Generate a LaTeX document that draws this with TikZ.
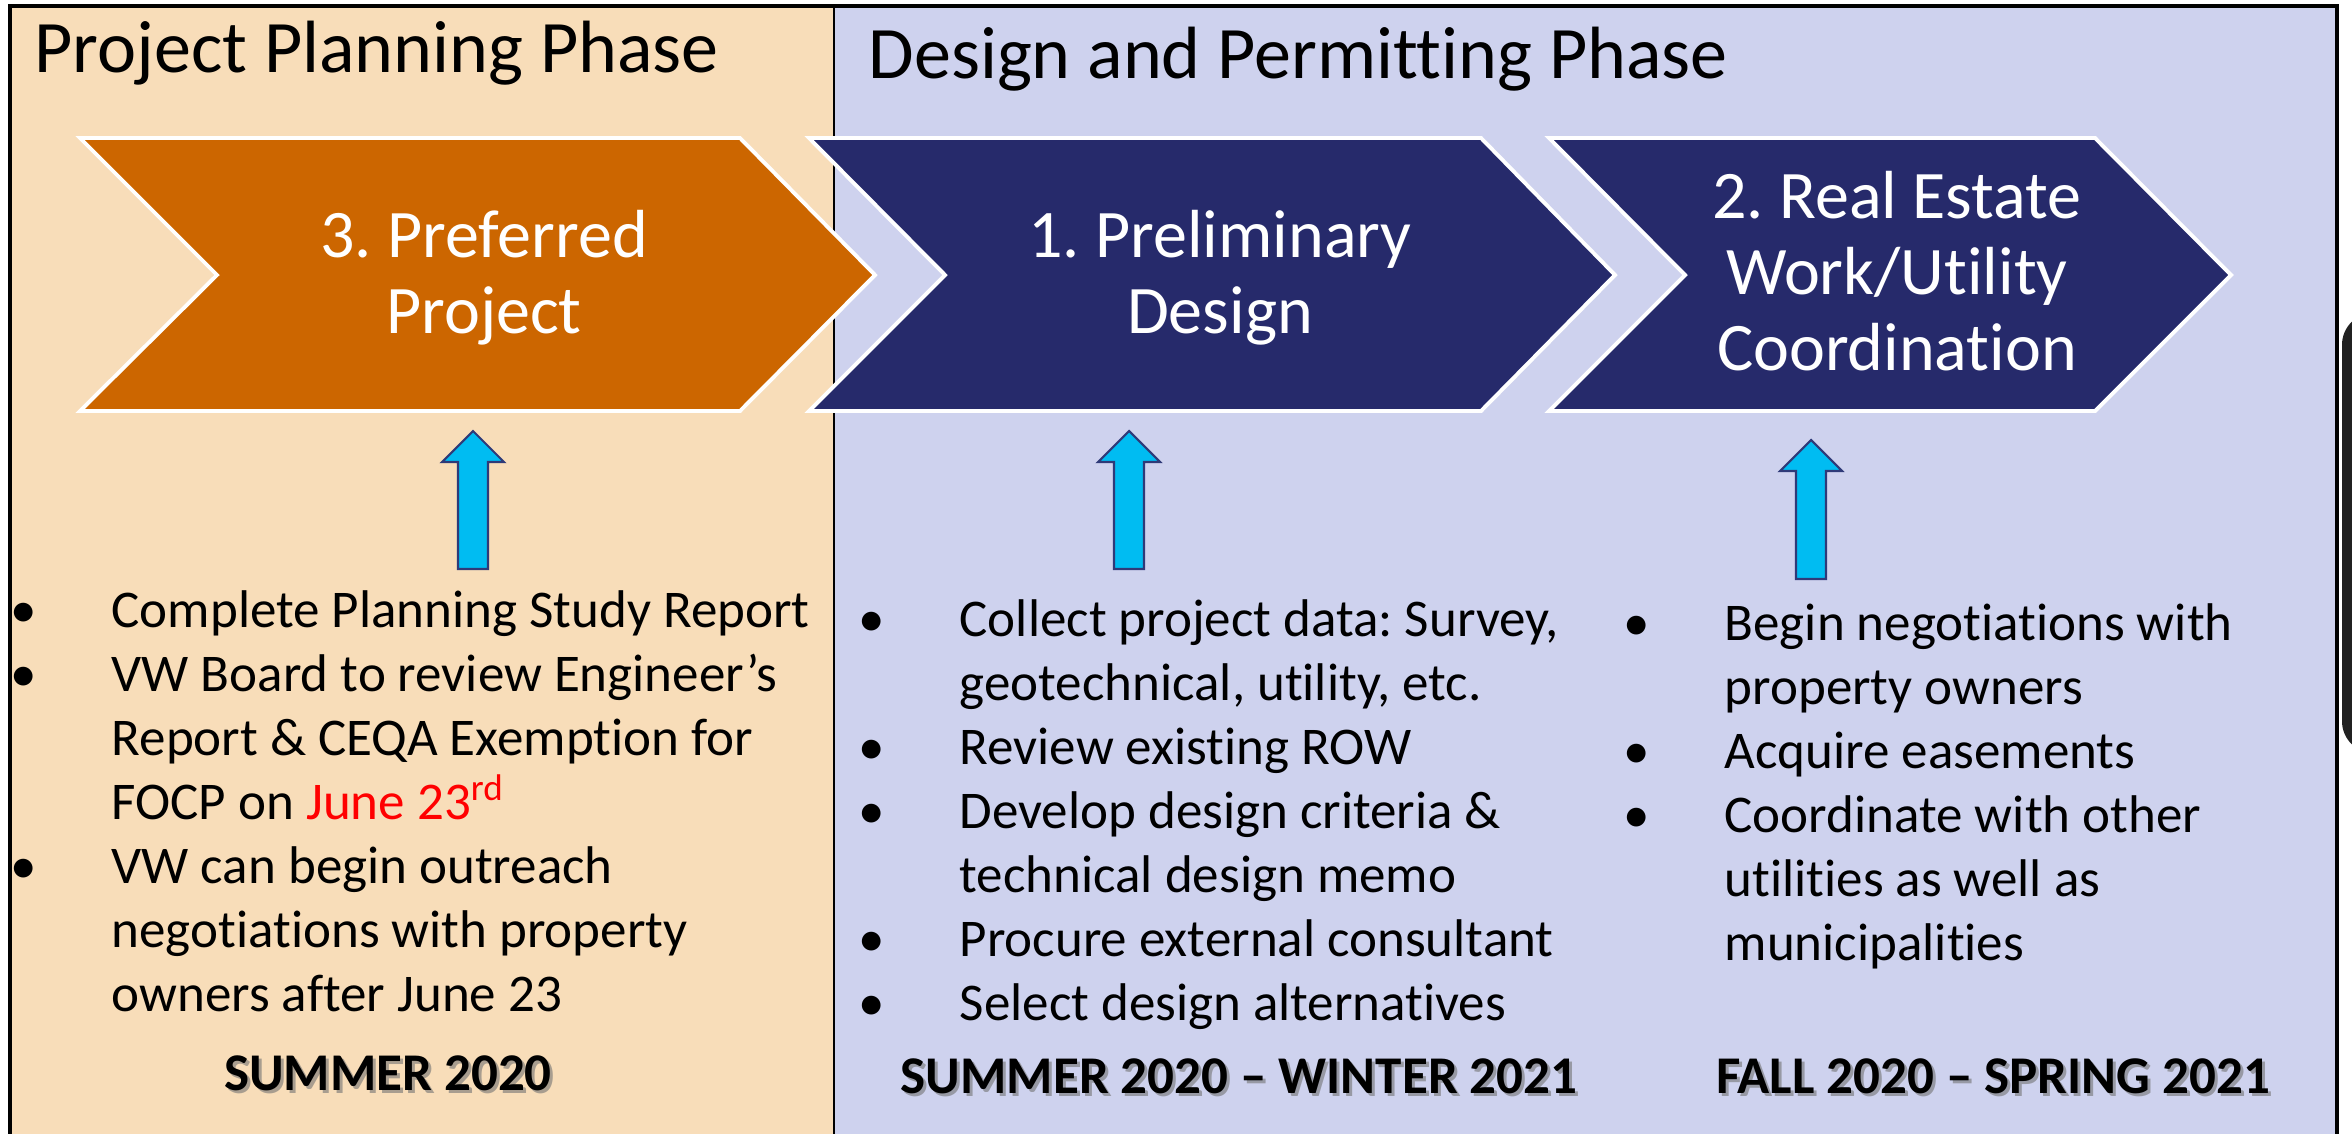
\documentclass[tikz,border=0pt]{standalone}
\usepackage{fontspec}
\setmainfont{Carlito}[Ligatures={NoCommon,NoRare,NoContextual}]
\frenchspacing
\definecolor{peach}{HTML}{F8DDB9}
\definecolor{lav}{HTML}{CED2EE}
\definecolor{chorange}{HTML}{CC6600}
\definecolor{navy}{HTML}{262A6B}
\definecolor{cyanfill}{HTML}{00BCF2}
\definecolor{arrline}{HTML}{2F3A78}
\definecolor{junered}{HTML}{FF0000}
\newlength\bulw
\setlength\bulw{28.7pt}
\newcommand\bi[1]{\hbox{\llap{\makebox[\bulw][l]{\textbullet}}#1}}
\newcommand\ci[1]{\hbox{#1}}
\newcommand\cent[1]{\vtop{\halign{\hfil##\hfil\cr#1\crcr}}}
\newcommand\blockup[3]{%
  \draw[blockarr] (#1,#2) -- (#1+31,#2+31) -- (#1+15,#2+31) -- (#1+15,#3)
    -- (#1-15,#3) -- (#1-15,#2+31) -- (#1-31,#2+31) -- cycle;}
\begin{document}
\frenchspacing
\begin{tikzpicture}[x=0.01cm,y=-0.01cm,
  frame/.style={draw=black,line width=1pt},
  divider/.style={draw=black,line width=0.7pt},
  chev/.style={draw=white,line width=1.1pt,line join=miter},
  blockarr/.style={draw=arrline,fill=cyanfill,line width=0.6pt,line join=miter},
  title/.style={anchor=base west,inner sep=0,font=\fontsize{21.06}{25}\selectfont},
  chevtext/.style={anchor=base,inner sep=0,text=white,font=\fontsize{19.35}{21.62}\selectfont},
  blist/.style={anchor=base west,inner sep=0,font=\fontsize{15.08}{18.21}\selectfont},
  lab/.style={anchor=base,inner sep=0,font=\bfseries\fontsize{15.08}{18}\selectfont},
  labshadow/.style={lab,text=black!55,opacity=0.6}]
\useasboundingbox (0,0) rectangle (2352,1133);
\clip (0,0) rectangle (2352,1133);
\fill[white] (0,0) rectangle (2352,1133);
% phase panels
\fill[peach] (10,6) rectangle (834,1140);
\fill[lav] (834,6) rectangle (2337,1140);
\draw[frame] (10,1140) -- (10,6) -- (2337,6) -- (2337,1140);
\draw[divider] (834,6) -- (834,1140);
% cropped dark element at right edge
\fill[black!87,rounded corners=9pt] (2342,313) rectangle (2420,753);
% titles
\node[title] (t1) at (34,72) {Project Planning Phase};
\node[title] (t2) at (868,78) {Design and Permitting Phase};
% chevrons
\draw[chev,fill=chorange] (80,138) -- (740,138) -- (875,275) -- (740,411) -- (80,411) -- (217,275) -- cycle;
\draw[chev,fill=navy] (809,138) -- (1481,138) -- (1615,275) -- (1481,411) -- (809,411) -- (945,275) -- cycle;
\draw[chev,fill=navy] (1549,138) -- (2095,138) -- (2231,275) -- (2095,411) -- (1549,411) -- (1685,275) -- cycle;
\node[chevtext] (c3) at (484,257) {\cent{3. Preferred\cr Project}};
\node[chevtext] (c1) at (1220,257) {\cent{1. Preliminary\cr Design}};
\node[chevtext] (c2) at (1897,218) {\cent{2. Real Estate\cr Work/Utility\cr Coordination}};
% block arrows
\blockup{473}{431}{569}
\blockup{1129}{431}{569}
\blockup{1811}{440}{579}
% bullet lists
\node[blist] (l1) at (111,627) {\vtop{%
  \bi{Complete Planning Study Report}
  \bi{VW Board to review Engineer’s}
  \ci{Report \& CEQA Exemption for}
  \ci{FOCP on \textcolor{junered}{June 23\textsuperscript{rd}}}
  \bi{VW can begin outreach}
  \ci{negotiations with property}
  \ci{owners after June 23}}};
\node[blist] (l2) at (959,636) {\vtop{%
  \bi{Collect project data: Survey,}
  \ci{geotechnical, utility, etc.}
  \bi{Review existing ROW}
  \bi{Develop design criteria \&}
  \ci{technical design memo}
  \bi{Procure external consultant}
  \bi{Select design alternatives}}};
\node[blist] (l3) at (1724,640) {\vtop{%
  \bi{Begin negotiations with}
  \ci{property owners}
  \bi{Acquire easements}
  \bi{Coordinate with other}
  \ci{utilities as well as}
  \ci{municipalities}}};
% time labels
\node[labshadow] (s1s) at (391,1093) {SUMMER 2020};
\node[lab] (s1) at (388,1090) {SUMMER 2020};
\node[labshadow] (s2s) at (1242,1096) {SUMMER 2020 – WINTER 2021};
\node[lab] (s2) at (1239,1093) {SUMMER 2020 – WINTER 2021};
\node[labshadow] (s3s) at (1996,1096) {FALL 2020 – SPRING 2021};
\node[lab] (s3) at (1993,1093) {FALL 2020 – SPRING 2021};
\end{tikzpicture}
\end{document}
